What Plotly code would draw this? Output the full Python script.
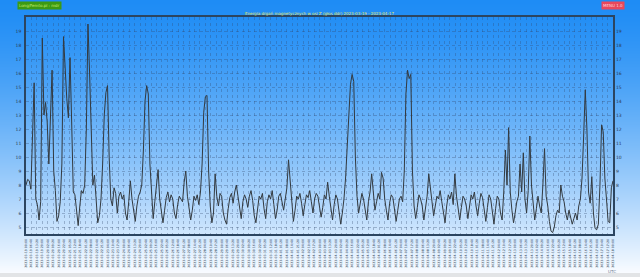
import base64, struct, zlib
import pandas as pd
import plotly.graph_objects as go

# ---------------- data ----------------
start_time = "2023-03-19 00:00"
step = "2h"
energy = [
    8.0, 8.4, 8.3, 7.7, 11.5, 15.3, 7.0, 6.6, 5.5, 6.8,
    18.5, 13.0, 13.9, 12.5, 9.5, 13.5, 16.2, 9.0, 7.6, 5.4,
    5.8, 6.8, 9.5, 18.6, 16.0, 14.2, 12.8, 17.1, 12.5, 7.5,
    7.3, 6.0, 5.1, 6.5, 7.6, 7.4, 8.0, 12.0, 19.5, 16.0,
    11.0, 8.0, 8.7, 6.5, 5.3, 5.8, 7.0, 9.5, 13.0, 14.6,
    15.1, 10.0, 7.0, 6.5, 7.8, 7.4, 6.0, 7.2, 7.5, 7.0,
    7.3, 6.0, 5.5, 6.8, 8.3, 7.0, 6.3, 5.4, 6.5, 7.2,
    7.5, 8.0, 10.5, 14.0, 15.1, 14.5, 9.5, 7.0, 5.6, 6.8,
    8.2, 9.1, 7.0, 6.0, 5.3, 6.2, 7.1, 7.5, 6.8, 7.3,
    7.0, 6.0, 5.6, 6.6, 7.2, 7.0, 6.8, 8.2, 9.0, 7.2,
    6.3, 5.5, 6.2, 7.2, 6.9, 7.3, 6.6, 7.5, 9.5, 13.2,
    14.3, 14.4, 9.0, 6.5, 5.3, 6.0, 8.8, 7.2, 6.5, 7.4,
    7.2, 6.0, 5.5, 5.2, 6.3, 7.1, 7.4, 6.7, 7.5, 8.0,
    7.2, 6.2, 5.6, 6.8, 7.3, 7.0, 6.4, 7.2, 7.6, 6.9,
    5.8, 5.3, 6.5, 7.2, 7.0, 7.4, 6.3, 5.6, 6.8, 7.3,
    7.0, 7.6, 6.6, 5.6, 6.2, 7.2, 7.4, 6.9, 6.2, 7.0,
    7.8, 9.8, 8.2, 6.5, 5.4, 6.2, 7.2, 7.0, 7.4, 6.7,
    5.8, 6.6, 7.3, 7.1, 7.6, 6.8, 6.0, 7.0, 7.4, 7.2,
    6.5, 5.7, 6.4, 7.3, 7.0, 8.2, 7.2, 6.3, 5.5, 6.6,
    7.3, 7.0, 6.2, 5.2, 6.0, 7.0, 8.5, 11.0, 13.5, 15.2,
    15.9, 15.4, 10.0, 7.2, 6.0, 6.8, 7.4, 7.0, 6.3, 5.5,
    6.8, 7.5, 8.8, 7.2, 6.2, 6.8, 7.4, 7.0, 8.9, 8.5,
    7.0, 6.2, 5.5, 6.7, 7.3, 7.1, 6.4, 5.4, 6.2, 7.0,
    7.2, 6.8, 9.0, 14.5, 16.2, 15.6, 15.9, 9.0, 6.5, 5.6,
    6.4, 7.3, 7.0, 6.5, 5.5, 6.3, 7.2, 8.8, 7.5, 6.8,
    5.8, 6.4, 7.2, 7.0, 7.6, 6.8, 6.0, 5.3, 6.5, 7.3,
    7.0, 7.5, 6.6, 8.8, 7.2, 6.2, 5.5, 6.4, 7.2, 7.0,
    6.5, 5.6, 6.6, 7.3, 7.0, 7.5, 6.5, 5.8, 6.7, 7.4,
    7.1, 6.3, 5.4, 6.4, 7.3, 7.0, 6.2, 5.2, 6.3, 7.2,
    7.0, 6.0, 5.5, 7.5, 10.5, 8.0, 12.1, 7.5, 6.2, 5.3,
    6.0, 6.8, 7.2, 9.5, 7.5, 10.3, 7.0, 6.0, 7.6, 11.5,
    8.0, 6.5, 5.5, 6.3, 7.2, 6.5, 6.0, 8.0, 10.6, 7.2,
    6.5, 5.4, 4.7, 4.6, 5.0, 5.8, 6.2, 6.0, 8.0, 7.2,
    6.8, 6.0, 5.5, 6.2, 5.6, 5.2, 5.6, 6.0, 5.5, 6.5,
    7.0, 8.5, 11.5, 14.8, 12.0, 7.5, 6.7, 8.6, 6.0, 4.9,
    4.8, 5.2, 8.0, 12.3, 11.8, 8.5, 7.0, 5.4, 5.3, 7.8,
    8.3,
]
y_ticks = list(range(5, 20))
x_range = ["2023-03-19 00:00", "2023-04-18 00:00"]
title_text = "Energia drgań magnetycznych w osi Z (głos ddr) 2023-03-19 - 2023-04-17"
badge_left = "Long/Femto.pl : mdr"
badge_right = "MENU 1.0"

times = pd.date_range(start=start_time, periods=len(energy), freq=step)
tick_times = pd.date_range(start=x_range[0], end=x_range[1], freq="400min")
tick_text = [t.strftime("%Y-%m-%d %H:%M") for t in tick_times]

# ---------------- layout geometry ----------------
W, H = 640, 277
ML, MR, MT, MB = 26, 27, 17, 43
PW, PH = W - ML - MR, H - MT - MB


def gradient_png(h):
    rows = b""
    for r in range(h):
        if r >= h - 4:
            c = (226, 228, 230)
        else:
            t = (r / (h - 5)) ** 1.35
            top = (30, 140, 245)
            bot = (248, 251, 255)
            c = tuple(int(round(top[i] + (bot[i] - top[i]) * t)) for i in range(3))
        rows += b"\x00" + bytes(c)
    def chunk(tag, data):
        return struct.pack(">I", len(data)) + tag + data + struct.pack(">I", zlib.crc32(tag + data) & 0xffffffff)
    png = b"\x89PNG\r\n\x1a\n"
    png += chunk(b"IHDR", struct.pack(">IIBBBBB", 1, h, 8, 2, 0, 0, 0))
    png += chunk(b"IDAT", zlib.compress(rows))
    png += chunk(b"IEND", b"")
    return "data:image/png;base64," + base64.b64encode(png).decode()


def px_x(x):
    return (x - ML) / PW


def px_y(y):
    return 1 - (y - MT) / PH


fig = go.Figure()
fig.add_trace(go.Scatter(x=times, y=energy, mode="lines",
                         line=dict(color="#333a40", width=1), hoverinfo="skip"))
fig.add_trace(go.Scatter(x=times, y=energy, mode="lines", yaxis="y2",
                         line=dict(color="rgba(0,0,0,0)", width=0), hoverinfo="skip",
                         showlegend=False))

axis_col = "#2c4560"
grid_col = "rgba(50,70,110,0.32)"
fig.update_layout(
    width=W, height=H,
    margin=dict(l=ML, r=MR, t=MT, b=MB, pad=0, autoexpand=False),
    paper_bgcolor="#ffffff",
    plot_bgcolor="rgba(0,0,0,0)",
    showlegend=False,
    images=[dict(source=gradient_png(H), xref="paper", yref="paper",
                 x=px_x(0), y=px_y(0), sizex=W / PW, sizey=H / PH,
                 xanchor="left", yanchor="top", sizing="stretch", layer="below")],
    xaxis=dict(
        range=x_range, tickmode="array", tickvals=tick_times, ticktext=tick_text,
        tickangle=-90, tickfont=dict(size=3.2, color="#2a3a55", family="DejaVu Sans"),
        showgrid=True, gridcolor=grid_col, gridwidth=0.6, griddash="dot",
        showline=True, linecolor=axis_col, linewidth=1.5, mirror=True,
        ticks="", zeroline=False, automargin=False, ticklabelstandoff=2,
    ),
    yaxis=dict(
        range=[4.5, 20], tickmode="array", tickvals=y_ticks,
        tickfont=dict(size=4.5, color="#2a3a55", family="DejaVu Sans"),
        showgrid=True, gridcolor=grid_col, gridwidth=0.6, griddash="dot",
        showline=True, linecolor=axis_col, linewidth=1.5, mirror=True,
        ticks="", zeroline=False, ticklabelstandoff=2, automargin=False,
    ),
    yaxis2=dict(
        range=[4.5, 20], tickmode="array", tickvals=y_ticks, overlaying="y", side="right",
        tickfont=dict(size=4.5, color="#2a3a55", family="DejaVu Sans"),
        showgrid=False, showline=False, ticks="", zeroline=False, ticklabelstandoff=2,
        automargin=False,
    ),
    annotations=[
        dict(text=title_text, xref="paper", yref="paper", x=0.5, y=px_y(13),
             showarrow=False, xanchor="center", yanchor="middle",
             font=dict(size=4, color="#e6e860", family="DejaVu Sans")),
        dict(text=badge_left, xref="paper", yref="paper", x=px_x(17), y=px_y(5.5),
             showarrow=False, xanchor="left", yanchor="middle", bgcolor="#3c9a12",
             borderpad=1, font=dict(size=4, color="#cdf070", family="DejaVu Sans")),
        dict(text=badge_right, xref="paper", yref="paper", x=px_x(625), y=px_y(5.5),
             showarrow=False, xanchor="right", yanchor="middle", bgcolor="#e8485c",
             borderpad=1, font=dict(size=4, color="#ffd6dc", family="DejaVu Sans")),
        dict(text="UTC", xref="paper", yref="paper", x=px_x(612), y=px_y(271),
             showarrow=False, xanchor="center", yanchor="middle",
             font=dict(size=4, color="#708090", family="DejaVu Sans")),
    ],
)

fig.write_html("out.html")
